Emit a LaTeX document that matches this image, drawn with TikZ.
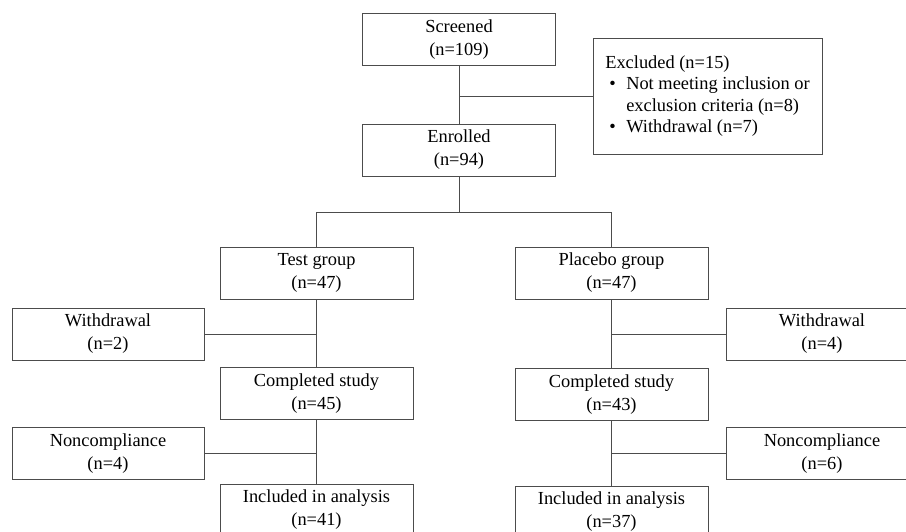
\documentclass[tikz,border=0pt]{standalone}
\usepackage{fontspec}
\setmainfont{Liberation Serif}

\newcommand{\exitem}{\makebox[21pt][l]{\hspace{4pt}\textbullet}}

\begin{document}
\begin{tikzpicture}[x=1pt,y=-1pt,
    box/.style={draw=black!70,line width=1pt,minimum width=193pt,minimum height=52pt,
      inner sep=0pt,align=center,font=\fontsize{18.4pt}{23pt}\selectfont},
    link/.style={draw=black!70,line width=1pt}]
%      \draw[help lines] (0,0) grid (906,531);
      \useasboundingbox (0,0) rectangle (906,531);

      \node[box] (screened) at (459,39.5) {Screened\\(n=109)};
      \node[box] (enrolled) at (459,150) {Enrolled\\(n=94)};
      \node[box,minimum width=229pt,minimum height=116pt,align=left,
        font=\fontsize{18.4pt}{21.5pt}\selectfont] (excluded) at (707.5,96)
        {Excluded (n=15)\\\exitem Not meeting inclusion or\\\hspace*{21pt}exclusion criteria (n=8)\\\exitem Withdrawal (n=7)};

      \node[box] (testgrp) at (316.5,273) {Test group\\(n=47)};
      \node[box] (placgrp) at (611.5,273) {Placebo group\\(n=47)};

      \node[box,minimum width=192pt] (wdtest) at (108,334) {Withdrawal\\(n=2)};
      \node[box,minimum width=192pt] (wdplac) at (822,334) {Withdrawal\\(n=4)};

      \node[box] (comptest) at (316.5,393.5) {Completed study\\(n=45)};
      \node[box] (compplac) at (611.5,394.5) {Completed study\\(n=43)};

      \node[box,minimum width=192pt] (nctest) at (108,453.5) {Noncompliance\\(n=4)};
      \node[box,minimum width=192pt] (ncplac) at (822,453.5) {Noncompliance\\(n=6)};

      \node[box] (incltest) at (316.5,510) {Included in analysis\\(n=41)};
      \node[box] (inclplac) at (611.5,512) {Included in analysis\\(n=37)};

      \draw[link] (screened) -- (enrolled);
      \draw[link] (excluded.west) -- (excluded.west -| screened.south);

      \draw[link] (enrolled.south) -- ++(0,36) coordinate (split);
      \draw[link] (testgrp.north) |- (split) -| (placgrp.north);

      \draw[link] (testgrp) -- (comptest);
      \draw[link] (comptest) -- (incltest);
      \draw[link] (placgrp) -- (compplac);
      \draw[link] (compplac) -- (inclplac);

      \draw[link] (wdtest.east) -- (wdtest.east -| testgrp.south);
      \draw[link] (nctest.east) -- (nctest.east -| comptest.south);
      \draw[link] (wdplac.west) -- (wdplac.west -| placgrp.south);
      \draw[link] (ncplac.west) -- (ncplac.west -| compplac.south);
    \end{tikzpicture}
\end{document}
